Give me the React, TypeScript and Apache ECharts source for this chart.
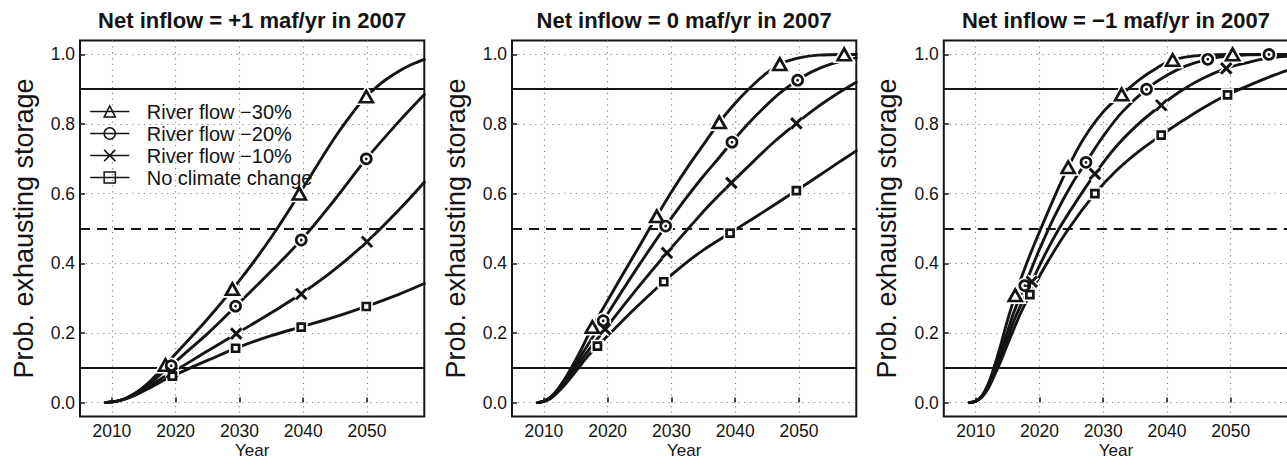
import React, { useEffect, useRef } from "react";
import * as echarts from "echarts";

const FONT = '"Liberation Sans", Arial, Helvetica, sans-serif';
const INK = "#141414";

const X_TICKS = [2010, 2020, 2030, 2040, 2050];
const Y_TICKS = [0, 0.2, 0.4, 0.6, 0.8, 1.0];
const X_MIN = 2005;
const X_MAX = 2059;
const Y_MIN = -0.04;
const Y_MAX = 1.04;
const REF_SOLID = [0.9, 0.1];
const REF_DASHED = [0.5];

const SERIES_NAMES = ["River flow \u221230%", "River flow \u221220%", "River flow \u221210%", "No climate change"];
const PANEL_TITLES = [
  "Net inflow = +1 maf/yr in 2007",
  "Net inflow = 0 maf/yr in 2007",
  "Net inflow = \u22121 maf/yr in 2007",
];

// Panel 1: net inflow +1
const P1_R30 = [[2009,0],[2010,0.002],[2011,0.005],[2012,0.011],[2013,0.02],[2014,0.031],[2015,0.045],[2016,0.061],[2017,0.08],[2018.4,0.108],[2020,0.14],[2025,0.24],[2030,0.35],[2035,0.475],[2040,0.617],[2045,0.762],[2048.5,0.85],[2050,0.881],[2051.5,0.906],[2053,0.928],[2055,0.952],[2057,0.971],[2059,0.986]];
const P1_R20 = [[2009,0],[2010,0.002],[2011,0.005],[2012,0.011],[2013,0.019],[2014,0.029],[2015,0.041],[2016,0.055],[2017,0.071],[2018,0.087],[2019.3,0.106],[2022,0.15],[2025,0.198],[2030,0.287],[2035,0.378],[2040,0.473],[2045,0.584],[2050,0.702],[2055,0.807],[2059,0.885]];
const P1_R10 = [[2009,0],[2010,0.002],[2011,0.005],[2012,0.01],[2013,0.017],[2014,0.026],[2015,0.036],[2016,0.048],[2017,0.06],[2018,0.072],[2019.4,0.086],[2025,0.148],[2030,0.203],[2035,0.258],[2040,0.316],[2045,0.383],[2050,0.462],[2055,0.553],[2059,0.633]];
const P1_NCC = [[2009,0],[2010,0.002],[2011,0.005],[2012,0.01],[2013,0.016],[2014,0.024],[2015,0.033],[2016,0.043],[2017,0.053],[2018,0.063],[2019.5,0.076],[2022,0.097],[2025,0.121],[2030,0.16],[2035,0.192],[2040,0.219],[2045,0.246],[2050,0.277],[2055,0.311],[2059,0.342]];
const P1_R30_M = [[2018.4,0.108],[2028.9,0.326],[2039.4,0.6],[2049.9,0.879]];
const P1_R20_M = [[2019.3,0.106],[2029.4,0.277],[2039.7,0.467],[2049.9,0.7]];
const P1_R10_M = [[2019.4,0.086],[2029.5,0.198],[2039.7,0.312],[2050,0.462]];
const P1_NCC_M = [[2019.5,0.076],[2029.4,0.156],[2039.7,0.217],[2049.9,0.276]];

// Panel 2: net inflow 0
const P2_R30 = [[2009,0],[2010,0.004],[2011,0.015],[2012,0.034],[2013,0.06],[2014,0.09],[2015,0.123],[2016,0.158],[2017.6,0.217],[2020,0.293],[2022.5,0.372],[2025,0.45],[2027.7,0.535],[2030,0.605],[2032.5,0.675],[2035,0.74],[2037.5,0.805],[2040,0.86],[2042,0.898],[2044.5,0.94],[2047,0.972],[2050,0.99],[2053,0.998],[2057,1.0],[2059,1.0]];
const P2_R20 = [[2009,0],[2010,0.004],[2011,0.014],[2012,0.031],[2013,0.055],[2014,0.082],[2015,0.11],[2016,0.14],[2017,0.169],[2018,0.198],[2019.3,0.235],[2022,0.313],[2025,0.397],[2029.1,0.507],[2032,0.58],[2035,0.65],[2037.5,0.704],[2039.5,0.748],[2042,0.8],[2044.5,0.847],[2047,0.889],[2049.8,0.926],[2052,0.95],[2055,0.972],[2059,0.99]];
const P2_R10 = [[2009,0],[2010,0.004],[2011,0.013],[2012,0.03],[2013,0.052],[2014,0.076],[2015,0.101],[2016,0.126],[2017,0.15],[2018,0.174],[2019.6,0.211],[2022,0.267],[2025,0.336],[2029.3,0.43],[2033,0.507],[2036,0.568],[2039.4,0.631],[2043,0.695],[2046,0.747],[2049.6,0.802],[2053,0.85],[2056,0.887],[2059,0.92]];
const P2_NCC = [[2009,0],[2010,0.003],[2011,0.011],[2012,0.026],[2013,0.045],[2014,0.067],[2015,0.09],[2016,0.113],[2017,0.136],[2018.4,0.162],[2021,0.21],[2024,0.265],[2028.8,0.347],[2032,0.397],[2035,0.438],[2039.2,0.487],[2043,0.531],[2046,0.566],[2049.6,0.609],[2053,0.65],[2056,0.687],[2059,0.723]];
const P2_R30_M = [[2017.6,0.217],[2027.7,0.535],[2037.5,0.805],[2047,0.972],[2057.1,1.0]];
const P2_R20_M = [[2019.3,0.235],[2029.1,0.507],[2039.5,0.748],[2049.8,0.926]];
const P2_R10_M = [[2019.6,0.211],[2029.3,0.43],[2039.4,0.631],[2049.6,0.802]];
const P2_NCC_M = [[2018.4,0.162],[2028.8,0.347],[2039.2,0.487],[2049.6,0.609]];

// Panel 3: net inflow -1
const P3_R30 = [[2009,0],[2010,0.004],[2011,0.02],[2012,0.055],[2013,0.108],[2014,0.17],[2015,0.237],[2016.2,0.308],[2018,0.4],[2020,0.49],[2022,0.576],[2024.5,0.676],[2027,0.76],[2030,0.835],[2032.9,0.885],[2036,0.932],[2038.5,0.962],[2040.9,0.984],[2044,0.995],[2047,0.999],[2050.3,1.0],[2059,1.0]];
const P3_R20 = [[2009,0],[2010,0.004],[2011,0.018],[2012,0.05],[2013,0.095],[2014,0.15],[2015,0.205],[2016,0.26],[2017.7,0.336],[2020,0.44],[2022.5,0.54],[2025,0.625],[2027.3,0.69],[2030,0.765],[2033,0.835],[2036.8,0.9],[2040,0.94],[2043,0.967],[2046.4,0.986],[2050,0.996],[2056,1.0],[2059,1.0]];
const P3_R10 = [[2009,0],[2010,0.004],[2011,0.017],[2012,0.045],[2013,0.088],[2014,0.135],[2015,0.185],[2016,0.235],[2017,0.277],[2018.8,0.347],[2021,0.43],[2023,0.497],[2025.5,0.57],[2028.7,0.657],[2032,0.735],[2035.5,0.8],[2039.1,0.854],[2042,0.893],[2045.5,0.93],[2049.3,0.96],[2053,0.978],[2056,0.99],[2059,0.995]];
const P3_NCC = [[2009,0],[2010,0.004],[2011,0.016],[2012,0.042],[2013,0.08],[2014,0.122],[2015,0.168],[2016,0.212],[2017,0.255],[2018.5,0.31],[2021,0.395],[2024.5,0.497],[2028.7,0.6],[2032,0.665],[2035.5,0.72],[2039.1,0.768],[2042.5,0.81],[2046,0.85],[2049.5,0.884],[2053,0.912],[2056,0.935],[2059,0.955]];
const P3_R30_M = [[2016.2,0.308],[2024.5,0.676],[2032.9,0.885],[2040.9,0.984],[2050.3,1.0]];
const P3_R20_M = [[2017.7,0.336],[2027.3,0.69],[2036.8,0.9],[2046.4,0.986],[2056,1.0]];
const P3_R10_M = [[2018.8,0.347],[2028.7,0.657],[2039.1,0.854],[2049.3,0.96]];
const P3_NCC_M = [[2018.5,0.31],[2028.7,0.6],[2039.1,0.768],[2049.5,0.884]];

const PANELS = [
  { title: PANEL_TITLES[0], curves: [P1_R30, P1_R20, P1_R10, P1_NCC], marks: [P1_R30_M, P1_R20_M, P1_R10_M, P1_NCC_M] },
  { title: PANEL_TITLES[1], curves: [P2_R30, P2_R20, P2_R10, P2_NCC], marks: [P2_R30_M, P2_R20_M, P2_R10_M, P2_NCC_M] },
  { title: PANEL_TITLES[2], curves: [P3_R30, P3_R20, P3_R10, P3_NCC], marks: [P3_R30_M, P3_R20_M, P3_R10_M, P3_NCC_M] },
];

const GRID_LEFTS = [80, 512, 943.8];
const GRID_TOP = 40.5;
const GRID_W = 344.3;
const GRID_H = 376;

const MARK_SYMBOLS = ["triangle", "circle", "path://M0,0L10,10M10,0L0,10", "rect"];
const MARK_SIZES: any[] = [[13, 11.5], 10, 10.5, 7];

function buildOption() {
  const grid = GRID_LEFTS.map((l) => ({
    left: l, top: GRID_TOP, width: GRID_W, height: GRID_H,
    containLabel: false, outerBoundsMode: "none",
    show: true, borderColor: INK, borderWidth: 2, backgroundColor: "transparent",
  }));
  const xAxis = GRID_LEFTS.map((_, i) => ({
    type: "value", gridIndex: i, min: X_MIN, max: X_MAX,
    axisLine: { show: false },
    axisTick: { show: true, inside: true, length: 5, customValues: X_TICKS, lineStyle: { color: INK, width: 1.5 } },
    axisLabel: { customValues: X_TICKS, margin: 5, fontSize: 17.5, color: INK, fontFamily: FONT, formatter: (v: number) => String(Math.round(v)) },
    splitLine: { show: true, lineStyle: { type: [1.3, 4.5], color: "#8c8c8c", width: 1.2 } },
    name: "Year", nameLocation: "middle", nameGap: 25, nameMoveOverlap: false,
    nameTextStyle: { fontSize: 17, color: INK, fontFamily: FONT },
  }));
  const yAxis = GRID_LEFTS.map((_, i) => ({
    type: "value", gridIndex: i, min: Y_MIN, max: Y_MAX,
    axisLine: { show: false },
    axisTick: { show: true, inside: true, length: 5, customValues: Y_TICKS, lineStyle: { color: INK, width: 1.5 } },
    axisLabel: { customValues: Y_TICKS, margin: 5, fontSize: 17.5, color: INK, fontFamily: FONT, formatter: (v: number) => v.toFixed(1) },
    splitLine: { show: true, lineStyle: { type: [1.3, 4.5], color: "#8c8c8c", width: 1.2 } },
    name: "Prob. exhausting storage", nameLocation: "middle", nameRotate: 90, nameGap: 43,
    nameTextStyle: { fontSize: 27, color: INK, fontFamily: FONT },
  }));

  const series: any[] = [];
  PANELS.forEach((p, pi) => {
    p.curves.forEach((c, k) => {
      const s: any = {
        type: "line", name: SERIES_NAMES[k], xAxisIndex: pi, yAxisIndex: pi,
        data: c, showSymbol: false, symbol: MARK_SYMBOLS[k], symbolSize: 10,
        smooth: 0.35,
        lineStyle: { color: INK, width: 2.9, cap: "round", join: "round" },
        itemStyle: { color: INK },
        emphasis: { disabled: true }, silent: true, z: 2,
      };
      if (k === 0) {
        s.markLine = {
          silent: true, symbol: ["none", "none"], label: { show: false }, z: 1,
          emphasis: { disabled: true },
          lineStyle: { color: INK, width: 2 },
          data: [
            ...REF_SOLID.map((v) => ({ yAxis: v, lineStyle: { color: INK, width: 2, type: "solid" } })),
            ...REF_DASHED.map((v) => ({ yAxis: v, lineStyle: { color: INK, width: 1.8, type: [10, 7] } })),
          ],
        };
      }
      series.push(s);
    });
    p.marks.forEach((m, k) => {
      series.push({
        type: "scatter", name: "halo " + pi + "-" + k, xAxisIndex: pi, yAxisIndex: pi, data: m,
        symbol: MARK_SYMBOLS[k], symbolSize: MARK_SIZES[k], silent: true, z: 3,
        itemStyle: { color: "#fff", borderColor: "#fff", borderWidth: 6, opacity: 1 },
        emphasis: { disabled: true },
      });
    });
    p.marks.forEach((m, k) => {
      series.push({
        type: "scatter", name: "marker " + pi + "-" + k, xAxisIndex: pi, yAxisIndex: pi, data: m,
        symbol: MARK_SYMBOLS[k], symbolSize: MARK_SIZES[k], silent: true, z: 4,
        itemStyle: { color: k === 2 ? "transparent" : "#fff", borderColor: INK, borderWidth: k === 2 ? 3 : 2.7, opacity: 1 },
        emphasis: { disabled: true },
      });
      if (k === 1) {
        series.push({
          type: "scatter", name: "dot " + pi, xAxisIndex: pi, yAxisIndex: pi, data: m,
          symbol: "circle", symbolSize: 2.8, silent: true, z: 5,
          itemStyle: { color: INK, opacity: 1 }, emphasis: { disabled: true },
        });
      }
    });
  });

  const graphic = PANELS.map((p, i) => ({
    type: "text", x: GRID_LEFTS[i] + GRID_W / 2, y: 20.8, silent: true,
    style: {
      text: p.title, fill: INK, fontSize: 22, fontWeight: "bold", fontFamily: FONT,
      align: "center", verticalAlign: "middle", textAlign: "center", textVerticalAlign: "middle",
    },
  }));

  return {
    animation: false,
    backgroundColor: "#ffffff",
    grid, xAxis, yAxis, series, graphic,
    legend: {
      data: SERIES_NAMES, orient: "vertical", left: 90, top: 101.5, padding: 0,
      itemWidth: 38, itemHeight: 14, itemGap: 2, selectedMode: false,
      textStyle: { fontSize: 20, color: INK, fontFamily: FONT, padding: [0, 0, 0, 13], lineHeight: 20 },
      itemStyle: { color: "transparent", borderColor: INK, borderWidth: 1.5 },
      lineStyle: { color: INK, width: 1.5 },
    },
  };
}

export default function App() {
  const ref = useRef<HTMLDivElement>(null);
  useEffect(() => {
    if (!ref.current) return;
    const chart = echarts.init(ref.current, null, { renderer: "svg" });
    chart.setOption(buildOption() as any);
    return () => chart.dispose();
  }, []);
  return (
    <div style={{ position: "fixed", left: 0, top: 0, width: 1287, height: 461, overflow: "hidden", background: "#fff" }}>
      <div ref={ref} style={{ width: 1287, height: 461 }} />
    </div>
  );
}
